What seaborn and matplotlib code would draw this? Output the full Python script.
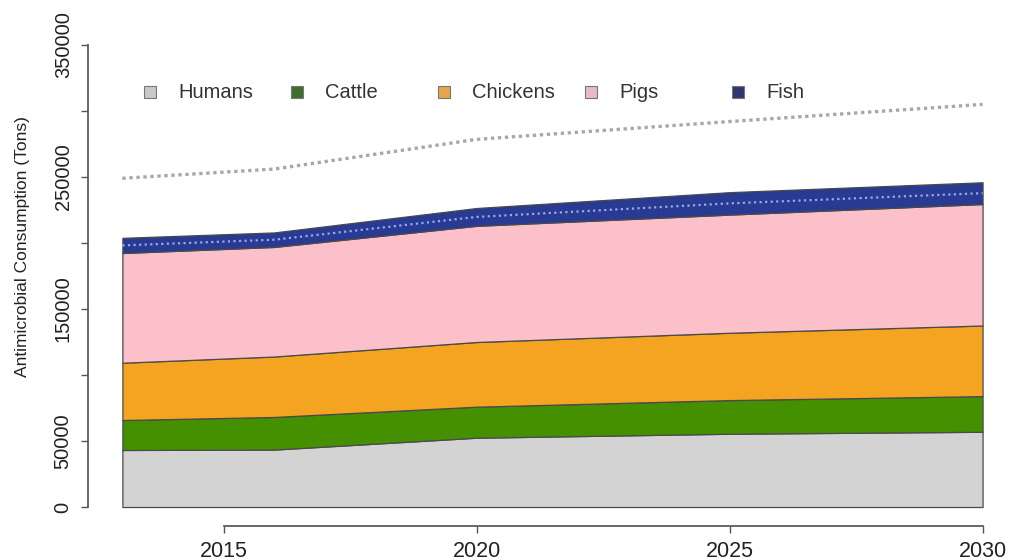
import numpy as np
import matplotlib
matplotlib.use("Agg")
import matplotlib.pyplot as plt
import seaborn as sns
from matplotlib.patches import Rectangle

years = [2013, 2016, 2020, 2025, 2030]
humans = [43200, 43500, 52500, 55500, 57000]
cattle = [22700, 24700, 23500, 25500, 27000]
chickens = [43400, 45800, 49000, 51000, 53500]
pigs = [83100, 83000, 88000, 89500, 92000]
fish = [11500, 11000, 13500, 17000, 16500]
projected = [249000, 256000, 278500, 292000, 305000]

labels = ["Humans", "Cattle", "Chickens", "Pigs", "Fish"]
colors = ["#d3d3d3", "#449000", "#f5a421", "#fcc0cb", "#283a92"]
legend_colors = ["#c8c8c8", "#3f6e2c", "#e8a54a", "#e6bcc6", "#2e3672"]

sns.set_theme(style="ticks")
plt.rcParams["font.family"] = ["Liberation Sans", "DejaVu Sans"]

fig = plt.figure(figsize=(10.09, 5.6), dpi=100)
ax = fig.add_axes([0.0872, 0.0616, 0.9207, 0.8911])

layers = [humans, cattle, chickens, pigs, fish]
base = np.zeros(len(years))
for vals, col in zip(layers, colors):
    top = base + np.array(vals)
    ax.fill_between(years, base, top, facecolor=col, edgecolor="#4a4a4a", linewidth=0.9)
    base = top

# dotted line inside the fish band
mid_fish = base - np.array(fish) / 2
sns.lineplot(x=years, y=mid_fish, ax=ax, color="#9aa8e6", linestyle=(0, (1, 1.5)), linewidth=1.6)

# projected total
sns.lineplot(x=years, y=projected, ax=ax, color="#a8a8a8", linestyle=(0, (1, 1.1)), linewidth=2.4)

ax.set_xlim(2012.32, 2030.68)
ax.set_ylim(-14000, 364000)

ax.set_xticks([2015, 2020, 2025, 2030])
ax.set_xticklabels(["2015", "2020", "2025", "2030"], fontsize=15.5, color="#222222")
yt = list(range(0, 350001, 50000))
ax.set_yticks(yt)
ax.set_yticklabels(["0", "50000", "", "150000", "", "250000", "", "350000"],
                   rotation=90, va="center", fontsize=14.5, color="#222222")
ax.tick_params(axis="both", direction="out", length=5, width=1, color="#555555")
ax.tick_params(axis="y", pad=6)
ax.tick_params(axis="x", pad=6)

for s in ["top", "right"]:
    ax.spines[s].set_visible(False)
ax.spines["left"].set_bounds(0, 350000)
ax.spines["bottom"].set_bounds(2015, 2030)
ax.spines["left"].set_color("#555555")
ax.spines["bottom"].set_color("#555555")

ax.set_ylabel("Antimicrobial Consumption (Tons)", fontsize=12.5, color="#222222")
ax.yaxis.set_label_coords(-0.0624, 0.558)
ax.set_xlabel("")

# legend drawn in a row, like base R horiz legend
W, H = 1009, 560
for i, (lab, col) in enumerate(zip(labels, legend_colors)):
    cx = 150 + 147 * i
    cy = 92
    s = 12
    fig.add_artist(Rectangle(((cx - s / 2) / W, 1 - (cy + s / 2) / H), s / W, s / H,
                             transform=fig.transFigure, facecolor=col,
                             edgecolor="#777777", linewidth=0.8))
    fig.text((cx + 28) / W, 1 - cy / H, lab, fontsize=14.5, color="#333333",
             ha="left", va="center")

fig.savefig("out.png", dpi=100)
